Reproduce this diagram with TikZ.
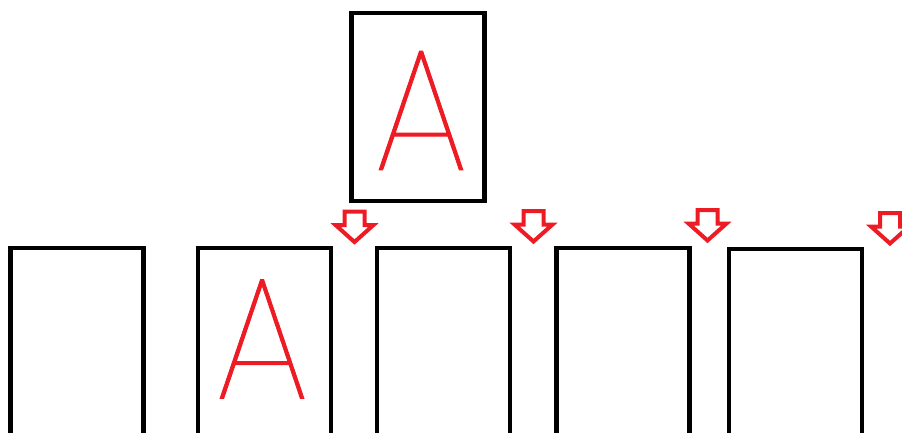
\documentclass[tikz,border=0pt]{standalone}
\usepackage{fontspec}
\newfontfamily\thinA{Poppins}[UprightFont=* Thin, FakeBold=0.6]
\definecolor{paintred}{HTML}{ED1C24}
\tikzset{
  card/.style={draw=black, line width=4.5pt, minimum width=133pt, minimum height=188pt, inner sep=0pt},
  letterA/.style={text=paintred, inner sep=0pt, font=\thinA\fontsize{174}{174}\selectfont, xscale=0.89},
  arrowline/.style={draw=paintred, line width=4pt},
  downarrow/.pic={\draw[arrowline] (-10,0) -- (10,0) -- (10,13.5) -- (19,13.5) -- (0,30.5) -- (-19,13.5) -- (-10,13.5) -- cycle;}
}
\begin{document}
\begin{tikzpicture}[x=1pt,y=-1pt]
\useasboundingbox (0,0) rectangle (902,433);
\node[card] (top) at (418.1,107) {};
\node[letterA] (topA) at (421,110.5) {A};
\node[card] (b1) at (76.75,342) {};
\node[card] (b2) at (264.35,342) {};
\node[letterA] (b2A) at (262,339) {A};
\node[card] (b3) at (443.5,342) {};
\node[card] (b4) at (622.75,342) {};
\node[card] (b5) at (795.5,343) {};
\pic (a1) at (354.5,211.5) {downarrow};
\pic (a2) at (533.5,211) {downarrow};
\pic (a3) at (707.5,210) {downarrow};
\pic (a4) at (890,213) {downarrow};
\end{tikzpicture}
\end{document}
